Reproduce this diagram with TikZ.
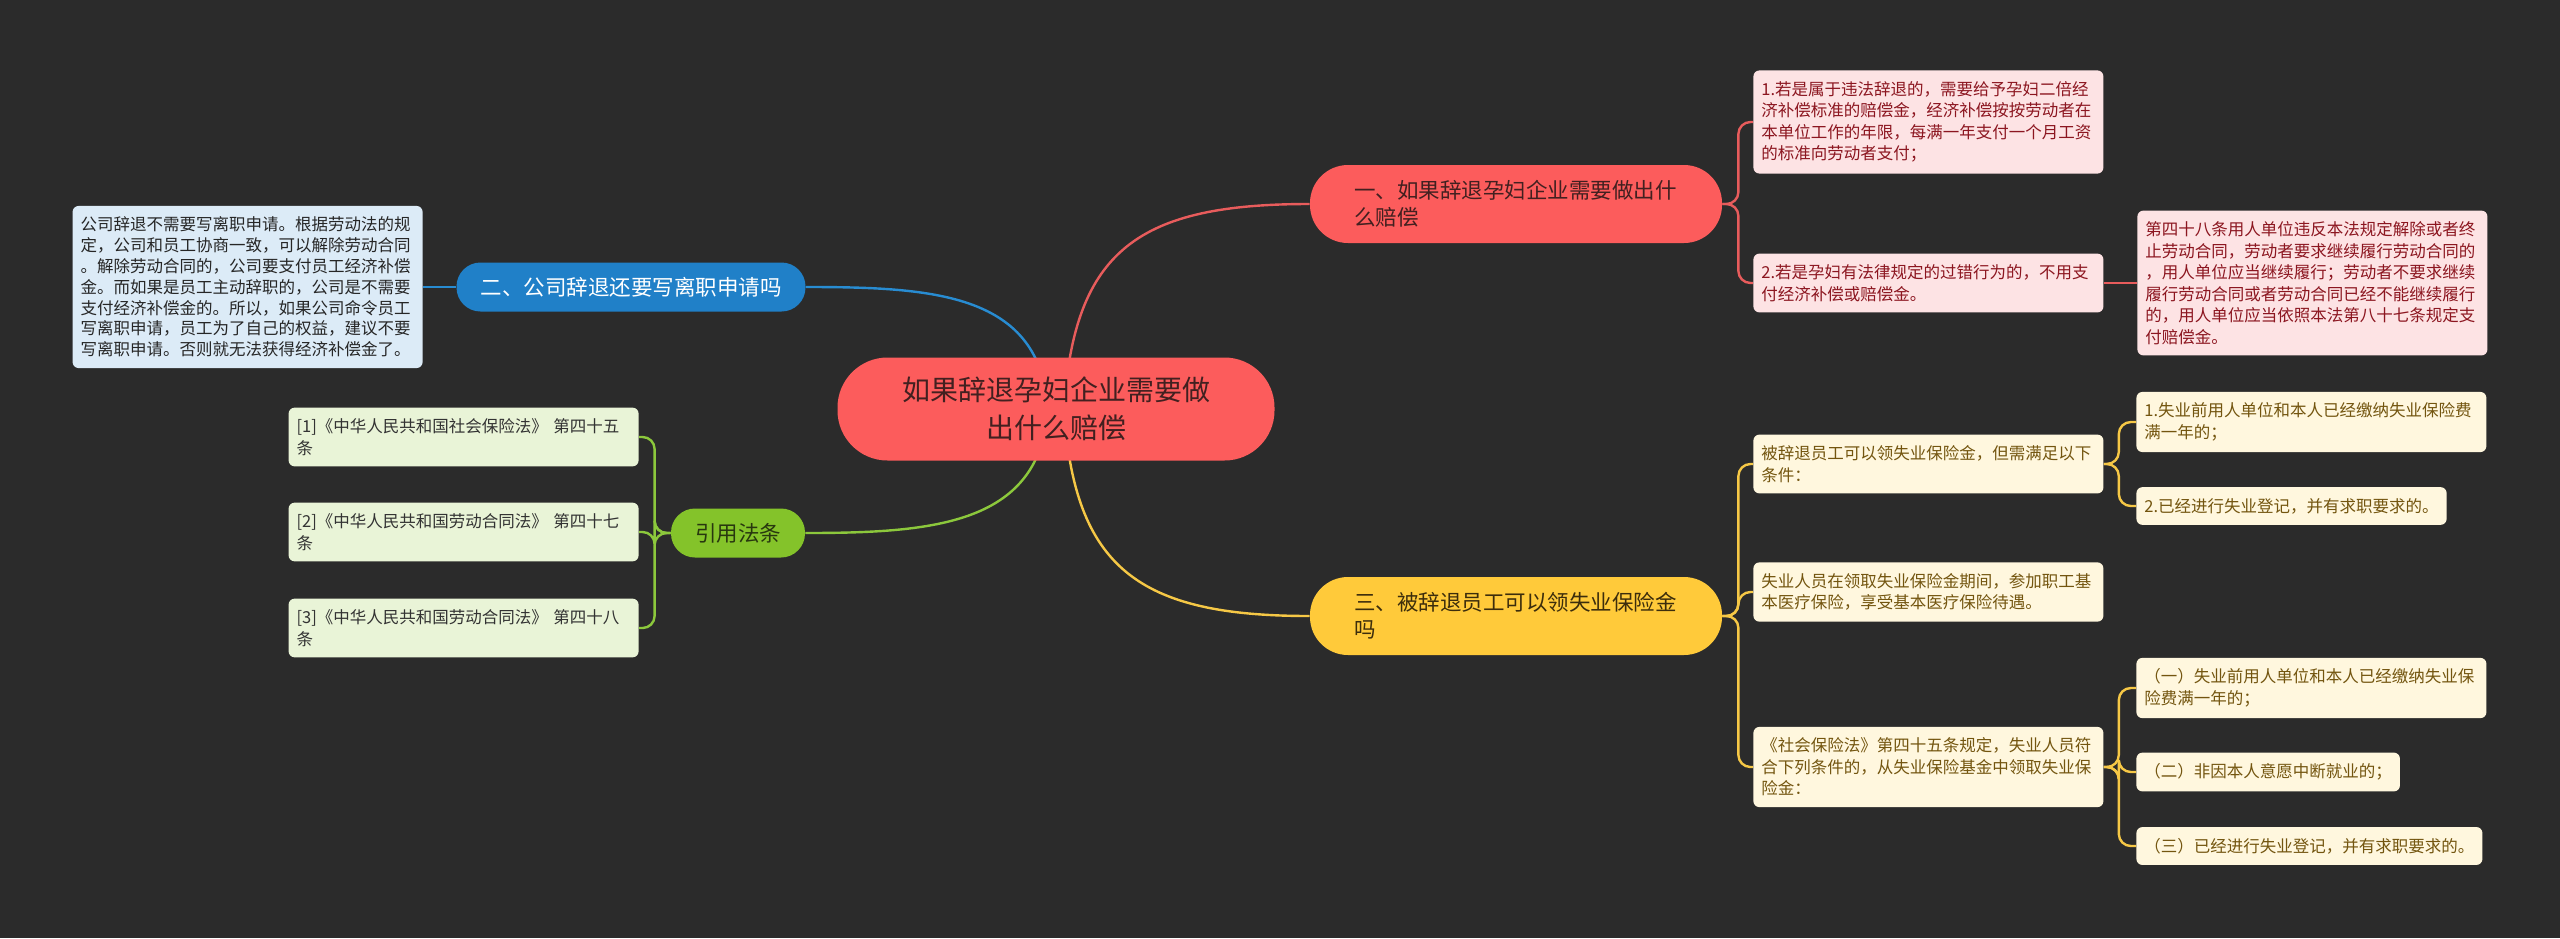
\documentclass[tikz,border=0pt]{standalone}
\usepackage{fontspec}
\setmainfont{Noto Sans CJK SC}
\usetikzlibrary{positioning,calc}
\pgfdeclarelayer{background}
\pgfsetlayers{background,main}
\definecolor{bg}{RGB}{43,43,43}
\definecolor{rosemain}{RGB}{252,92,92}
\definecolor{roseline}{RGB}{232,92,92}
\definecolor{roselight}{RGB}{253,227,228}
\definecolor{rosetext}{RGB}{140,22,32}
\definecolor{rosedark}{RGB}{66,32,32}
\definecolor{yellowmain}{RGB}{255,202,58}
\definecolor{yellowline}{RGB}{246,200,70}
\definecolor{yellowlight}{RGB}{255,247,222}
\definecolor{yellowtext}{RGB}{115,85,15}
\definecolor{yellowdark}{RGB}{60,45,12}
\definecolor{bluemain}{RGB}{32,128,200}
\definecolor{blueline}{RGB}{40,140,210}
\definecolor{bluelight}{RGB}{220,235,247}
\definecolor{greenmain}{RGB}{132,195,42}
\definecolor{greenline}{RGB}{140,200,60}
\definecolor{greenlight}{RGB}{233,244,215}
\definecolor{greendark}{RGB}{40,55,15}

\begin{document}
\begin{tikzpicture}[x=0.5pt,y=-0.5pt]
			\def\rad{6pt}

			\tikzset{line/.style={draw,line width=1.2pt}}
			\tikzset{bracket/.style={line,rounded corners=\rad}}
			\tikzset{root/.style={fill=rosemain,text=rosedark,rounded corners=25pt,minimum width=218.5pt,minimum height=51.5pt,inner sep=0pt,align=center,font=\fontsize{14}{19}\selectfont}}
			\tikzset{topic/.style={rounded corners=19pt,minimum height=39pt,text width=162pt,inner xsep=22pt,inner ysep=0pt,align=left,font=\fontsize{10.75}{13.5}\selectfont}}
			\tikzset{subtopic/.style={rounded corners=12pt,minimum height=24.5pt,inner xsep=12pt,inner ysep=0pt,font=\fontsize{10.75}{13.5}\selectfont}}
			\tikzset{leaf/.style={rounded corners=3pt,inner xsep=4pt,inner ysep=5.5pt,align=left,font=\fontsize{8.25}{10.75}\selectfont}}
			\tikzset{wide/.style={leaf,text width=167pt}}
			\tikzset{rleaf/.style={fill=roselight,text=rosetext}}
			\tikzset{yleaf/.style={fill=yellowlight,text=yellowtext}}
			\tikzset{gleaf/.style={wide,fill=greenlight,text=black!80,anchor=east}}

			\begin{pgfonlayer}{background}
				\path[fill=bg] (0,0) rectangle (2560,938);
			\end{pgfonlayer}

			% centre and main topics
			\node[root] (root) at (1056,409) {如果辞退孕妇企业需要做\\出什么赔偿};
			\node[topic,fill=rosemain,text=rosedark] (t1) at (1516,204) {一、如果辞退孕妇企业需要做出什\\么赔偿};
			\node[topic,fill=yellowmain,text=yellowdark] (t3) at (1516,616) {三、被辞退员工可以领失业保险金\\吗};
			\node[subtopic,fill=bluemain,text=white] (t2) at (631,287) {二、公司辞退还要写离职申请吗};
			\node[subtopic,fill=greenmain,text=greendark] (cite) at (738,533) {引用法条};

			% branch one
			\node[wide,rleaf,anchor=west] (r1) at (1753,122) {1.若是属于违法辞退的，需要给予孕妇二倍经\\济补偿标准的赔偿金，经济补偿按按劳动者在\\本单位工作的年限，每满一年支付一个月工资\\的标准向劳动者支付；};
			\node[wide,rleaf,anchor=west] (r2) at (1753,283) {2.若是孕妇有法律规定的过错行为的，不用支\\付经济补偿或赔偿金。};
			\node[wide,rleaf,anchor=west] (r2a) at (2137,283) {第四十八条用人单位违反本法规定解除或者终\\止劳动合同，劳动者要求继续履行劳动合同的\\，用人单位应当继续履行；劳动者不要求继续\\履行劳动合同或者劳动合同已经不能继续履行\\的，用人单位应当依照本法第八十七条规定支\\付赔偿金。};

			% branch two
			\node[wide,fill=bluelight,text=black!85,anchor=east,font=\fontsize{8.25}{10.4}\selectfont] (b1) at (423,287) {公司辞退不需要写离职申请。根据劳动法的规\\定，公司和员工协商一致，可以解除劳动合同\\。解除劳动合同的，公司要支付员工经济补偿\\金。而如果是员工主动辞职的，公司是不需要\\支付经济补偿金的。所以，如果公司命令员工\\写离职申请，员工为了自己的权益，建议不要\\写离职申请。否则就无法获得经济补偿金了。};

			% branch three
			\node[wide,yleaf,anchor=west] (y1) at (1753,464) {被辞退员工可以领失业保险金，但需满足以下\\条件：};
			\node[wide,yleaf,anchor=west] (y2) at (1753,592) {失业人员在领取失业保险金期间，参加职工基\\本医疗保险，享受基本医疗保险待遇。};
			\node[wide,yleaf,anchor=west] (y3) at (1753,767) {《社会保险法》第四十五条规定，失业人员符\\合下列条件的，从失业保险基金中领取失业保\\险金：};
			\node[wide,yleaf,anchor=west] (y1a) at (2136,422) {1.失业前用人单位和本人已经缴纳失业保险费\\满一年的；};
			\node[leaf,yleaf,anchor=west] (y1b) at (2136,506) {2.已经进行失业登记，并有求职要求的。};
			\node[wide,yleaf,anchor=west] (y3a) at (2136,688) {（一）失业前用人单位和本人已经缴纳失业保\\险费满一年的；};
			\node[leaf,yleaf,anchor=west] (y3b) at (2136,772) {（二）非因本人意愿中断就业的；};
			\node[leaf,yleaf,anchor=west] (y3c) at (2136,846) {（三）已经进行失业登记，并有求职要求的。};

			% references
			\node[gleaf] (g1) at (639,437) {[1]《中华人民共和国社会保险法》 第四十五\\条};
			\node[gleaf] (g2) at (639,532) {[2]《中华人民共和国劳动合同法》 第四十七\\条};
			\node[gleaf] (g3) at (639,628) {[3]《中华人民共和国劳动合同法》 第四十八\\条};

			\begin{pgfonlayer}{background}
				\path[line,roseline] ([xshift=4pt]root.center) .. controls +(10,-160) and +(-170,0) .. (t1.west);
				\path[line,yellowline] ([xshift=4pt]root.center) .. controls +(10,160) and +(-170,0) .. (t3.west);
				\path[line,blueline] ([xshift=-4pt]root.center) .. controls +(-8,-115) and +(130,0) .. (t2.east);
				\path[line,greenline] ([xshift=-4pt]root.center) .. controls +(-8,115) and +(130,0) .. (cite.east);

				\path[bracket,roseline] (t1.east) -- ++(16,0) |- (r1.west);
				\path[bracket,roseline] (t1.east) -- ++(16,0) |- (r2.west);
				\path[line,roseline] (r2) -- (r2a);

				\path[line,blueline] (t2) -- (b1);

				\path[bracket,yellowline] (t3.east) -- ++(16,0) |- (y1.west);
				\path[bracket,yellowline] (t3.east) -- ++(16,0) |- (y2.west);
				\path[bracket,yellowline] (t3.east) -- ++(16,0) |- (y3.west);
				\path[bracket,yellowline] (y1.east) -- ++(15,0) |- (y1a.west);
				\path[bracket,yellowline] (y1.east) -- ++(15,0) |- (y1b.west);
				\path[bracket,yellowline] (y3.east) -- ++(15,0) |- (y3a.west);
				\path[bracket,yellowline] (y3.east) -- ++(15,0) |- (y3b.west);
				\path[bracket,yellowline] (y3.east) -- ++(15,0) |- (y3c.west);

				\path[bracket,greenline] (cite.west) -- ++(-16,0) |- (g1.east);
				\path[bracket,greenline] (cite.west) -- ++(-16,0) |- (g2.east);
				\path[bracket,greenline] (cite.west) -- ++(-16,0) |- (g3.east);
			\end{pgfonlayer}
		\end{tikzpicture}
\end{document}
